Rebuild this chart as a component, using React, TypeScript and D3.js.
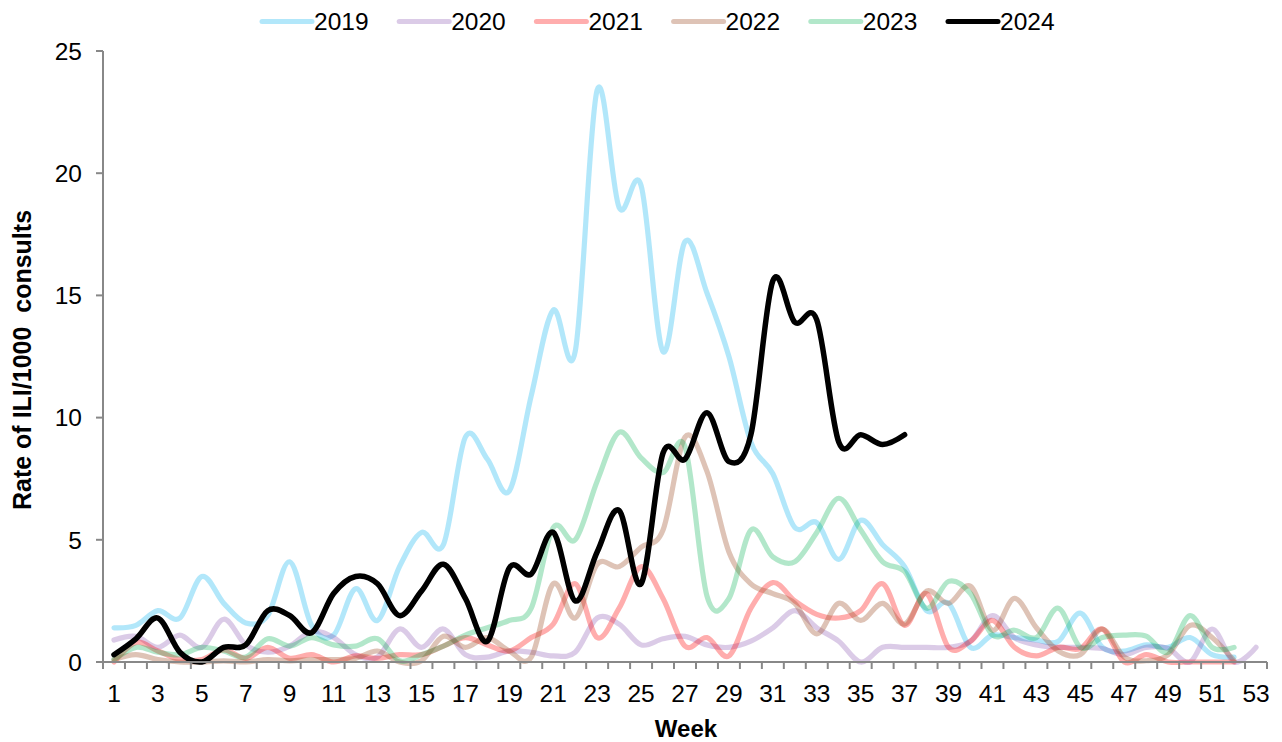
import { useMemo } from "react";
import * as d3 from "d3";

const WIDTH = 1282;
const HEIGHT = 742;

const years = ["2019", "2020", "2021", "2022", "2023", "2024"];

const rate2019 = [
  1.4, 1.5, 2.1, 1.8, 3.5, 2.4, 1.6, 1.9, 4.1, 1.5, 1.1, 3.0, 1.7, 3.9, 5.3, 4.8, 9.2, 8.3, 7.0, 10.9,
  14.4, 12.7, 23.4, 18.6, 19.5, 12.7, 17.2, 15.1, 12.5, 9.0, 7.7, 5.5, 5.7, 4.2, 5.8, 4.8, 3.9, 2.1, 2.4, 0.6,
  1.1, 1.0, 0.9, 0.85, 2.0, 0.6, 0.45, 0.7, 0.6, 1.0, 0.3, 0.2,
];
const rate2020 = [
  0.9, 1.05, 0.6, 1.1, 0.6, 1.75, 0.7, 0.4, 0.65, 1.25, 1.0, 0.3, 0.2, 1.35, 0.6, 1.35, 0.3, 0.2, 0.45, 0.4,
  0.25, 0.4, 1.8, 1.55, 0.7, 0.95, 1.05, 0.7, 0.6, 0.85, 1.4, 2.1, 1.4, 0.85, 0.0, 0.6, 0.6, 0.6, 0.6, 0.85,
  1.9, 1.0, 0.7, 0.6, 0.6, 0.55, 0.3, 0.6, 0.55, 0.0, 1.35, 0.0, 0.6,
];
const rate2021 = [
  0.0, 0.8, 0.45, 0.1, 0.1, 0.5, 0.15, 0.6, 0.15, 0.3, 0.0, 0.25, 0.15, 0.3, 0.3, 0.65, 1.0, 0.7, 0.45, 1.0,
  1.55, 3.2, 1.0, 2.2, 3.9, 2.6, 0.65, 1.0, 0.25, 2.2, 3.25, 2.5, 1.95, 1.8, 2.1, 3.2, 1.5, 2.8, 0.6, 0.85,
  1.7, 0.6, 0.25, 0.6, 0.55, 1.35, 0.0, 0.3, 0.0, 0.0, 0.0, 0.0,
];
const rate2022 = [
  0.1, 0.3, 0.1, 0.0, 0.0, 0.05, 0.0, 0.1, 0.05, 0.1, 0.1, 0.15, 0.45, 0.0, 0.05, 1.05, 0.6, 1.0, 0.45, 0.2,
  3.2, 1.8, 4.0, 3.9, 4.7, 5.4, 9.2, 7.8, 4.5, 3.2, 2.8, 2.4, 1.15, 2.4, 1.7, 2.4, 1.55, 2.9, 2.4, 3.1,
  1.3, 2.6, 1.4, 0.45, 0.3, 1.35, 0.2, 0.05, 0.3, 1.5, 1.0, 0.05,
];
const rate2023 = [
  0.1, 0.6, 0.4, 0.3, 0.6, 0.45, 0.2, 0.95, 0.65, 1.0, 0.7, 0.65, 0.95, 0.05, 0.3, 0.65, 1.1, 1.4, 1.7, 2.2,
  5.5, 5.0, 7.4, 9.4, 8.35, 7.75, 8.8, 2.7, 2.6, 5.4, 4.3, 4.1, 5.3, 6.7, 5.4, 4.1, 3.7, 2.2, 3.3, 2.8,
  1.1, 1.3, 1.0, 2.2, 0.6, 1.0, 1.1, 1.06, 0.4, 1.9, 0.6, 0.6,
];
const rate2024 = [
  0.3, 0.95, 1.8, 0.4, 0.0, 0.6, 0.7, 2.1, 1.9, 1.2, 2.8, 3.5, 3.2, 1.9, 2.9, 4.0, 2.6, 0.85, 3.85, 3.6,
  5.3, 2.5, 4.5, 6.2, 3.2, 8.55, 8.3, 10.2, 8.2, 9.3, 15.6, 13.9, 14.0, 9.0, 9.3, 8.9, 9.3,
];

const seriesValues = [rate2019, rate2020, rate2021, rate2022, rate2023, rate2024];
const seriesColors = ["#00b0f0", "#7030a0", "#ff0000", "#a0522d", "#00b050", "#000000"];
const seriesOpacity = [0.3, 0.25, 0.32, 0.35, 0.3, 1];

const weeks = d3.range(1, 54);
const weekLabels = weeks.filter((w) => w % 2 === 1);
const yTicks = [0, 5, 10, 15, 20, 25];

const FONT = "'Liberation Sans', Arial, sans-serif";
const AXIS = "#888888";

export default function App() {
  const x = d3.scaleLinear().domain([0.5, 53.5]).range([103, 1267]);
  const y = d3.scaleLinear().domain([0, 25]).range([662, 51]);

  const line = useMemo(
    () =>
      d3
        .line<number>()
        .x((_d, i) => x(i + 1))
        .y((d) => y(d))
        .curve(d3.curveCardinal.tension(0)),
    []
  );

  return (
    <svg
      width={WIDTH}
      height={HEIGHT}
      style={{ position: "absolute", left: 0, top: 0, display: "block", background: "#fff" }}
      fontFamily={FONT}
    >
      {/* legend */}
      <g>
        {years.map((yr, i) => {
          const x0 = 262 + i * 137.2;
          return (
            <g key={yr}>
              <line
                x1={x0}
                x2={x0 + 50}
                y1={21.5}
                y2={21.5}
                stroke={seriesColors[i]}
                strokeOpacity={seriesOpacity[i]}
                strokeWidth={5}
                strokeLinecap="round"
              />
              <text x={x0 + 52} y={30} fontSize={24.5} fill="#000">
                {yr}
              </text>
            </g>
          );
        })}
      </g>

      {/* series */}
      <g fill="none" strokeLinejoin="round" strokeLinecap="round">
        {seriesValues.map((vals, i) => (
          <path
            key={years[i]}
            d={line(vals) ?? ""}
            stroke={seriesColors[i]}
            strokeOpacity={seriesOpacity[i]}
            strokeWidth={i === 5 ? 5.5 : 5.2}
          />
        ))}
      </g>

      {/* y axis */}
      <g>
        <line x1={103} x2={103} y1={y(25)} y2={y(0)} stroke={AXIS} strokeWidth={2} />
        {yTicks.map((t) => (
          <g key={t}>
            <line x1={96} x2={103} y1={y(t)} y2={y(t)} stroke={AXIS} strokeWidth={2} />
            <text x={82} y={y(t)} dy="0.36em" textAnchor="end" fontSize={24.5} fill="#000">
              {t}
            </text>
          </g>
        ))}
      </g>

      {/* x axis */}
      <g>
        <line x1={x(0.5)} x2={x(53.5)} y1={y(0)} y2={y(0)} stroke={AXIS} strokeWidth={2} />
        {d3.range(0, 54).map((k) => (
          <line
            key={k}
            x1={x(k + 0.5)}
            x2={x(k + 0.5)}
            y1={y(0)}
            y2={y(0) + 7}
            stroke={AXIS}
            strokeWidth={2}
          />
        ))}
        {weekLabels.map((w) => (
          <text key={w} x={x(w)} y={702} textAnchor="middle" fontSize={24.5} fill="#000">
            {w}
          </text>
        ))}
      </g>

      <text x={686} y={737} textAnchor="middle" fontSize={24} fontWeight="bold" fill="#000">
        Week
      </text>
      <text
        transform="translate(31,360) rotate(-90)"
        textAnchor="middle"
        fontSize={25}
        fontWeight="bold"
        fill="#000"
        style={{ whiteSpace: "pre" }}
      >
        {"Rate of ILI/1000  consults"}
      </text>
    </svg>
  );
}
